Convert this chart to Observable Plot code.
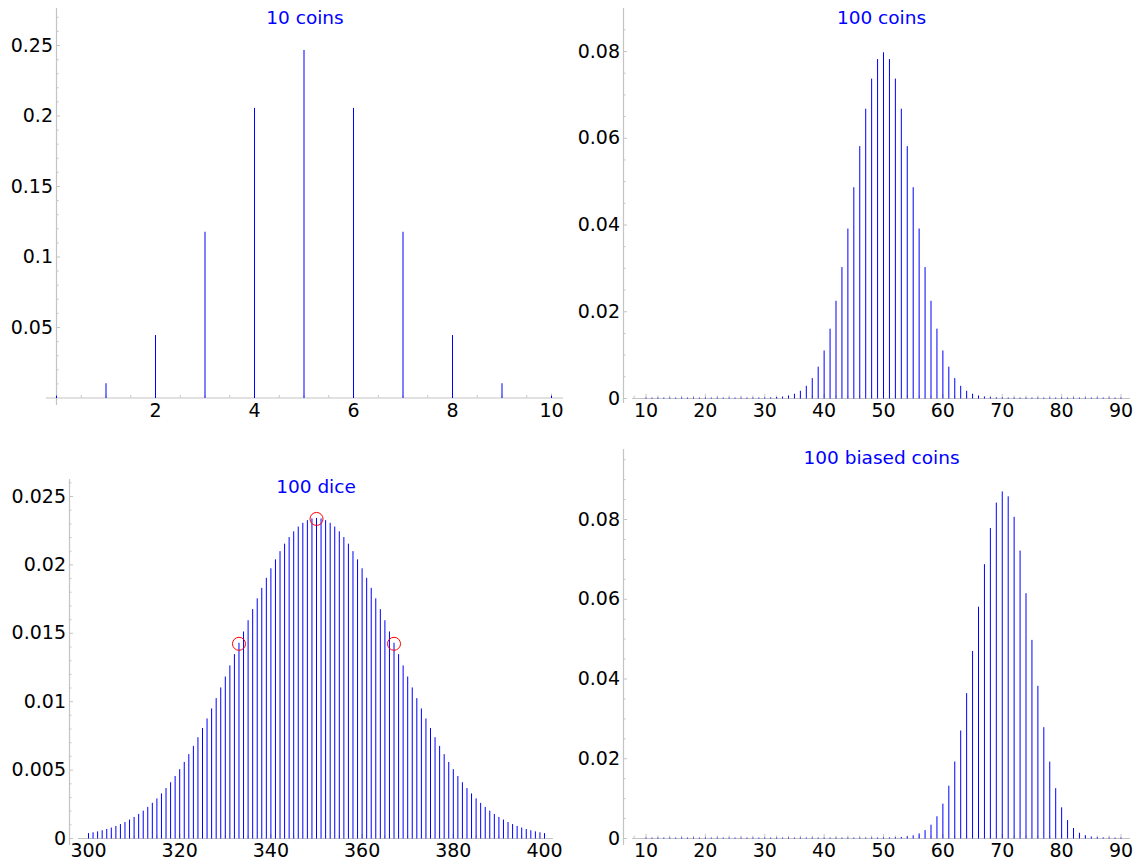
<!DOCTYPE html>
<html><head><meta charset="utf-8">
<script src="https://cdn.jsdelivr.net/npm/d3@7"></script>
<script src="https://cdn.jsdelivr.net/npm/@observablehq/plot@0.6"></script>
<style>
html,body{margin:0;padding:0;background:#fff;}
#root{position:relative;width:1136px;height:861px;overflow:hidden;background:#fff;}
.panel{position:absolute;}
</style></head><body><div id="root"></div>
<script>
// ---------- data ----------
const titles = ["10 coins", "100 coins", "100 dice", "100 biased coins"];

const coins10K = [0, 1, 2, 3, 4, 5, 6, 7, 8, 9, 10];
const coins10P = [0.000977, 0.009766, 0.043945, 0.117188, 0.205078, 0.246094, 0.205078, 0.117188, 0.043945, 0.009766, 0.000977];

const coins100K = d3.range(10, 91);
const coins100P = [
  0, 0, 0, 0, 0, 0, 0, 0, 0, 0, 0, 0, 0, 0, 0, 0,
  0.0000006, 0.0000015, 0.0000039, 0.0000098, 0.0000232, 0.0000523, 0.0001128, 0.0002325, 0.0004581, 0.0008639,
  0.0015597, 0.0026979, 0.0044729, 0.0071107, 0.0108438, 0.0158690, 0.0222922, 0.0300686, 0.0389526, 0.0484743,
  0.0579584, 0.0665904, 0.0735270, 0.0780286, 0.0795892, 0.0780286, 0.0735270, 0.0665904, 0.0579584, 0.0484743,
  0.0389526, 0.0300686, 0.0222922, 0.0158690, 0.0108438, 0.0071107, 0.0044729, 0.0026979, 0.0015597, 0.0008639,
  0.0004581, 0.0002325, 0.0001128, 0.0000523, 0.0000232, 0.0000098, 0.0000039, 0.0000015, 0.0000006,
  0, 0, 0, 0, 0, 0, 0, 0, 0, 0, 0, 0, 0, 0, 0, 0
];

const dice100K = d3.range(300, 401);
const dice100P = [
  0.000322, 0.000381, 0.000450, 0.000530, 0.000621, 0.000726, 0.000846, 0.000982, 0.001135, 0.001309,
  0.001504, 0.001722, 0.001965, 0.002235, 0.002533, 0.002861, 0.003220, 0.003612, 0.004037, 0.004498,
  0.004994, 0.005525, 0.006092, 0.006695, 0.007331, 0.008001, 0.008703, 0.009433, 0.010189, 0.010969,
  0.011767, 0.012581, 0.013405, 0.014234, 0.015062, 0.015884, 0.016694, 0.017484, 0.018250, 0.018984,
  0.019680, 0.020331, 0.020933, 0.021478, 0.021962, 0.022380, 0.022728, 0.023002, 0.023200, 0.023320,
  0.023360,
  0.023320, 0.023200, 0.023002, 0.022728, 0.022380, 0.021962, 0.021478, 0.020933, 0.020331, 0.019680,
  0.018984, 0.018250, 0.017484, 0.016694, 0.015884, 0.015062, 0.014234, 0.013405, 0.012581, 0.011767,
  0.010969, 0.010189, 0.009433, 0.008703, 0.008001, 0.007331, 0.006695, 0.006092, 0.005525, 0.004994,
  0.004498, 0.004037, 0.003612, 0.003220, 0.002861, 0.002533, 0.002235, 0.001965, 0.001722, 0.001504,
  0.001309, 0.001135, 0.000982, 0.000846, 0.000726, 0.000621, 0.000530, 0.000450, 0.000381, 0.000322
];
const diceMarkK = [333, 350, 367];
const diceMarkP = [0.014234, 0.023360, 0.014234];

const biasedK = d3.range(10, 91);
const biasedP = [
  0, 0, 0, 0, 0, 0, 0, 0, 0, 0, 0, 0, 0, 0, 0, 0, 0, 0, 0, 0,
  0, 0, 0, 0, 0, 0, 0, 0, 0, 0, 0, 0, 0, 0, 0, 0, 0,
  0.0000009, 0.0000022, 0.0000055, 0.0000130, 0.0000298, 0.0000655, 0.0001385, 0.0002812, 0.0005488, 0.0010289,
  0.0018533, 0.0032059, 0.0053250, 0.0084904, 0.0129910, 0.0190670, 0.0268350, 0.0361990, 0.0467800, 0.0578840,
  0.0685390, 0.0776100, 0.0839840, 0.0867830, 0.0855610, 0.0804120, 0.0719670, 0.0612690, 0.0495600, 0.0380400,
  0.0276650, 0.0190350, 0.0123690, 0.0075760, 0.0043648, 0.0023598, 0.0011941, 0.0005639, 0.0002477, 0.0001008,
  0.0000379, 0.0000131, 0.0000041, 0.0000012
];

const xTicks10 = [2, 4, 6, 8, 10];
const yTicks10 = [0.05, 0.1, 0.15, 0.2, 0.25];
const xTicks100 = [10, 20, 30, 40, 50, 60, 70, 80, 90];
const yTicks100 = [0, 0.02, 0.04, 0.06, 0.08];
const xTicksDice = [300, 320, 340, 360, 380, 400];
const yTicksDice = [0, 0.005, 0.01, 0.015, 0.02, 0.025];

// ---------- layout ----------
const panels = [
  {title: titles[0], k: coins10K, p: coins10P, left: 0, top: 0, width: 568, height: 430,
   xDomain: [0, 10], yDomain: [0, 0.25], mL: 56, mR: 17, mT: 45, mB: 32.5,
   yAxisAt: 0, yAxisPx: [8, 405], xAxisPx: [46, 563],
   xMajor: xTicks10, yMajor: yTicks10, xMinorStep: 0.5, yMinorStep: 0.01, titleY: 18},
  {title: titles[1], k: coins100K, p: coins100P, left: 568, top: 0, width: 568, height: 430,
   xDomain: [10, 90], yDomain: [0, 0.08], mL: 77.5, mR: 15.5, mT: 51, mB: 32,
   yAxisPx: [8, 403], yAxisX: 623, xAxisPx: [632, 1130],
   xMajor: xTicks100, yMajor: yTicks100, xMinorStep: 2, yMinorStep: 0.005, titleY: 18},
  {title: titles[2], k: dice100K, p: dice100P, left: 0, top: 430, width: 568, height: 431,
   xDomain: [300, 400], yDomain: [0, 0.025], mL: 88, mR: 24, mT: 66, mB: 23,
   yAxisPx: [479, 845], yAxisX: 69, xAxisPx: [78, 553],
   xMajor: xTicksDice, yMajor: yTicksDice, xMinorStep: 5, yMinorStep: 0.001, titleY: 487,
   marks: {k: diceMarkK, p: diceMarkP}},
  {title: titles[3], k: biasedK, p: biasedP, left: 568, top: 430, width: 568, height: 431,
   xDomain: [10, 90], yDomain: [0, 0.08], mL: 77.5, mR: 15.5, mT: 89, mB: 23,
   yAxisPx: [449, 845], yAxisX: 623, xAxisPx: [632, 1130],
   xMajor: xTicks100, yMajor: yTicks100, xMinorStep: 2, yMinorStep: 0.005, titleY: 458}
];

const gray = "#c4c4c4";

function drawPanel(c) {
  const [x0, x1] = c.xDomain, [y0, y1] = c.yDomain;
  const kx = (c.width - c.mL - c.mR) / (x1 - x0);
  const ky = (c.height - c.mT - c.mB) / (y1 - y0);
  // page px -> data
  const px2x = px => x0 + (px - c.left - c.mL) / kx;
  const py2y = py => y0 + (c.top + c.height - c.mB - py) / ky;
  const yAxisAt = c.yAxisAt !== undefined ? c.yAxisAt : px2x(c.yAxisX);
  const xa0 = px2x(c.xAxisPx[0]), xa1 = px2x(c.xAxisPx[1]);
  const ya0 = py2y(c.yAxisPx[1]), ya1 = py2y(c.yAxisPx[0]);
  const round = v => +v.toFixed(6);
  const xMinor = d3.range(Math.ceil(xa0 / c.xMinorStep), Math.floor(xa1 / c.xMinorStep) + 1)
    .map(i => round(i * c.xMinorStep)).filter(v => !c.xMajor.includes(v));
  const yMinor = d3.range(0, Math.floor(ya1 / c.yMinorStep) + 1)
    .map(i => round(i * c.yMinorStep)).filter(v => v > 0 && !c.yMajor.some(m => Math.abs(m - v) < 1e-9));
  const data = c.k.map((k, i) => ({k, p: c.p[i]}));
  const marks = [
    Plot.ruleY([0], {x1: xa0, x2: xa1, stroke: gray, strokeWidth: 1.2}),
    Plot.ruleX([yAxisAt], {y1: ya0, y2: ya1, stroke: gray, strokeWidth: 1.2}),
    Plot.ruleX(xMinor, {y1: 0, y2: 2.5 / ky, stroke: gray}),
    Plot.ruleX(c.xMajor, {y1: 0, y2: 4 / ky, stroke: gray}),
    Plot.ruleY(yMinor, {x1: yAxisAt, x2: yAxisAt + 2.5 / kx, stroke: gray}),
    Plot.ruleY(c.yMajor, {x1: yAxisAt, x2: yAxisAt + 4 / kx, stroke: gray}),
    Plot.ruleX(data, {x: "k", y1: 0, y2: "p", stroke: "blue", strokeWidth: 1, strokeLinecap: "square"}),
    Plot.text(c.xMajor, {x: d => d, y: 0, dy: 12.5, text: d => String(d), fill: "black", fontSize: 19}),
    Plot.text(c.yMajor, {x: yAxisAt, y: d => d, dx: -3.5, textAnchor: "end", text: d => String(d), fill: "black", fontSize: 19}),
    Plot.text([c.title], {x: (xa0 + xa1) / 2, y: py2y(c.titleY), text: d => d, fill: "blue", fontSize: 18.5})
  ];
  if (c.marks) {
    const md = c.marks.k.map((k, i) => ({k, p: c.marks.p[i]}));
    marks.push(Plot.dot(md, {x: "k", y: "p", r: 6.5, stroke: "red", fill: "none", strokeWidth: 1}));
  }
  const svg = Plot.plot({
    width: c.width, height: c.height,
    marginLeft: c.mL, marginRight: c.mR, marginTop: c.mT, marginBottom: c.mB,
    x: {domain: c.xDomain, axis: null},
    y: {domain: c.yDomain, axis: null},
    style: {fontFamily: "DejaVu Sans", fontSize: "19px", background: "transparent", overflow: "visible"},
    marks
  });
  const div = document.createElement("div");
  div.className = "panel";
  div.style.left = c.left + "px";
  div.style.top = c.top + "px";
  div.style.width = c.width + "px";
  div.style.height = c.height + "px";
  div.appendChild(svg);
  document.getElementById("root").appendChild(div);
}
panels.forEach(drawPanel);
</script>
</body></html>
